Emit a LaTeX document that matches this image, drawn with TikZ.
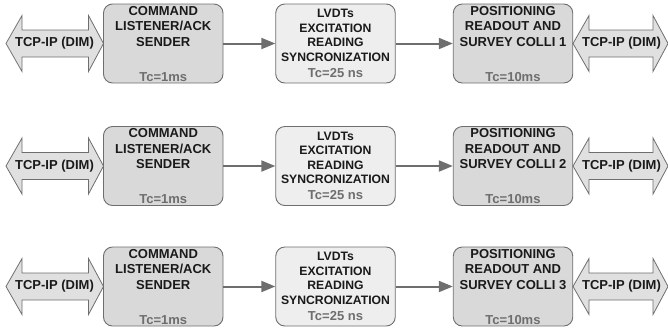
\documentclass[tikz,border=0pt]{standalone}
\usepackage{fontspec}
\setmainfont{Liberation Sans}
\usetikzlibrary{arrows.meta}
\definecolor{boxdark}{HTML}{D9D9D9}
\definecolor{boxlight}{HTML}{EEEEEE}
\definecolor{edgegray}{HTML}{6E6E6E}
\definecolor{tcgray}{HTML}{6E6E6E}
\definecolor{ink}{HTML}{1A1A1A}
\definecolor{arrfill}{HTML}{E0E0E0}
\definecolor{conn}{HTML}{6E6E6E}
\newcommand\mydblarrow[3]{%
  \draw[dblarr] (#1,#3) -- ({#1+16},{#3-28}) -- ({#1+16},{#3-13.5}) -- ({#2-15},{#3-13.5})
    -- ({#2-15},{#3-28}) -- (#2,#3) -- ({#2-15},{#3+28}) -- ({#2-15},{#3+13.5})
    -- ({#1+16},{#3+13.5}) -- ({#1+16},{#3+28}) -- cycle;}
\begin{document}
\begin{tikzpicture}[x=1pt,y=-1pt,
  blk/.style={draw=edgegray, line width=0.9pt, rounded corners=9pt,
    minimum width=119.5pt, minimum height=79pt, inner sep=0pt},
  darkblk/.style={blk, fill=boxdark},
  lightblk/.style={blk, fill=boxlight},
  bigtxt/.style={font=\bfseries\fontsize{13}{15.5}\selectfont, text=ink, align=center, inner sep=0pt},
  smalltxt/.style={font=\bfseries\fontsize{12.2}{14.6}\selectfont, text=ink, align=center, inner sep=0pt},
  tctxt/.style={font=\bfseries\fontsize{13}{15}\selectfont, text=tcgray, inner sep=0pt},
  tcptxt/.style={font=\bfseries\fontsize{13}{15}\selectfont, text=ink, inner sep=0pt},
  dblarr/.style={draw=edgegray, fill=arrfill, line width=0.8pt, line join=miter},
  conarr/.style={draw=conn, line width=2pt, -{Triangle[length=14pt,width=11pt]}},
]
\useasboundingbox (0,0) rectangle (668,333);
\foreach \yc/\k in {43.5/1,166/2,286.5/3}{
  % boxes
  \node[darkblk] (a\k) at (163.25,\yc) {};
  \node[lightblk] (b\k) at (335.5,\yc) {};
  \node[darkblk] (c\k) at (513,\yc) {};
  % texts
  \node[bigtxt, anchor=north, yshift=-2.3pt] (at\k) at (a\k.north) {COMMAND\\LISTENER/ACK\\SENDER};
  \node[tctxt, anchor=base, yshift=2.4pt] (atc\k) at (a\k.south) {Tc=1ms};
  \node[smalltxt, anchor=north, yshift=-5.5pt] (bt\k) at (b\k.north) {LVDTs\\EXCITATION\\READING\\SYNCRONIZATION};
  \node[tctxt, anchor=base, yshift=6.4pt] (btc\k) at (b\k.south) {Tc=25 ns};
  \node[bigtxt, anchor=north, yshift=-2.3pt] (ct\k) at (c\k.north) {POSITIONING\\READOUT AND\\SURVEY COLLI \k};
  \node[tctxt, anchor=base, yshift=2.4pt] (ctc\k) at (c\k.south) {Tc=10ms};
  % connectors
  \draw[conarr] (a\k.east) -- (b\k.west);
  \draw[conarr] (b\k.east) -- (c\k.west);
  % double arrows
  \mydblarrow{6}{103.5}{\yc}
  \mydblarrow{573}{668}{\yc}
  \node[tcptxt] (l\k) at (54.5,\yc) {TCP-IP (DIM)};
  \node[tcptxt] (rr\k) at (621.5,\yc) {TCP-IP (DIM)};
}
\end{tikzpicture}
\end{document}
